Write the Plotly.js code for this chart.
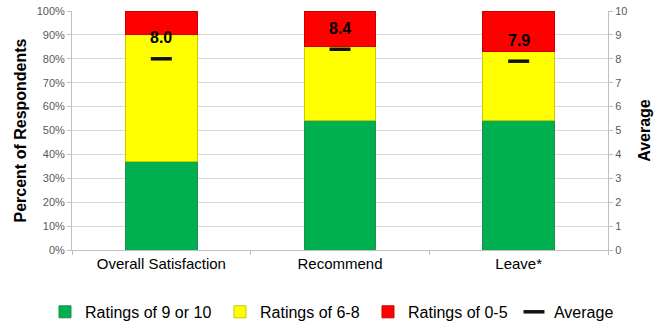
<!DOCTYPE html>
<html>
<head>
<meta charset="utf-8">
<script src="https://cdn.plot.ly/plotly-3.0.1.min.js"></script>
<style>html,body{margin:0;padding:0;background:#fff}#chart{width:662px;height:322px}</style>
</head>
<body>
<div id="chart"></div>
<script>
const categories = ["Overall Satisfaction", "Recommend", "Leave*"];
const high = [37, 54, 54];     // Ratings of 9 or 10 (%)
const mid = [53, 31, 29];      // Ratings of 6-8 (%)
const low = [10, 15, 17];      // Ratings of 0-5 (%)
const average = [8.0, 8.4, 7.9];
const avgLabels = ["8.0", "8.4", "7.9"];

const font = "Liberation Sans, Arial, sans-serif";

const traces = [
  {type: "bar", name: "Ratings of 9 or 10", x: categories, y: high, legendwidth: 130,
   marker: {color: "#00B050", line: {color: "#1f8f4a", width: 1}}},
  {type: "bar", name: "Ratings of 6-8", x: categories, y: mid, legendwidth: 103,
   marker: {color: "#FFFF00", line: {color: "#c9c900", width: 1}}},
  {type: "bar", name: "Ratings of 0-5", x: categories, y: low, legendwidth: 101,
   marker: {color: "#FF0000", line: {color: "#cc0000", width: 1}}},
  {type: "scatter", mode: "markers", name: "Average", x: categories, y: average, yaxis: "y2", legendwidth: 75,
   marker: {symbol: "line-ew", size: 15, color: "#000", line: {color: "#111", width: 3.5}}}
];

const annotations = categories.map((c, i) => ({
  x: c, y: average[i], xref: "x", yref: "y2", text: "<b>" + avgLabels[i] + "</b>",
  showarrow: false, yshift: 21, font: {family: font, size: 16, color: "#000"}
}));

const layout = {
  width: 662, height: 322,
  margin: {l: 72, r: 54, t: 11, b: 72, autoexpand: false},
  paper_bgcolor: "#fff", plot_bgcolor: "#fff",
  barmode: "stack", bargap: 0.6,
  font: {family: font},
  showlegend: true,
  legend: {orientation: "h", x: -0.0504, xanchor: "left", y: -0.259, yanchor: "middle",
           font: {family: font, size: 16, color: "#000"}, itemwidth: 30, traceorder: "normal"},
  xaxis: {type: "category", showgrid: false, showline: true, linecolor: "#bfbfbf", linewidth: 1,
          ticks: "outside", tickson: "boundaries", ticklen: 4, tickcolor: "#bfbfbf",
          tickfont: {family: font, size: 15, color: "#000"}, automargin: false},
  yaxis: {range: [0, 100], dtick: 10, ticksuffix: "%", showgrid: true, gridcolor: "#d9d9d9",
          showline: true, linecolor: "#bfbfbf", ticks: "outside", ticklen: 4, tickcolor: "#bfbfbf",
          tickfont: {family: font, size: 11, color: "#595959"}, zeroline: false, automargin: false,
          title: {text: "<b>Percent of Respondents</b>", font: {family: font, size: 16, color: "#000"}, standoff: 6}},
  yaxis2: {range: [0, 10], dtick: 1, overlaying: "y", side: "right", showgrid: false,
           showline: true, linecolor: "#bfbfbf", ticks: "outside", ticklen: 4, tickcolor: "#bfbfbf",
           tickfont: {family: font, size: 11, color: "#595959"}, zeroline: false, automargin: false,
           title: {text: "<b>Average</b>", font: {family: font, size: 16, color: "#000"}, standoff: 12}},
  annotations: annotations
};

Plotly.newPlot("chart", traces, layout, {displayModeBar: false, staticPlot: true});
</script>
</body>
</html>
